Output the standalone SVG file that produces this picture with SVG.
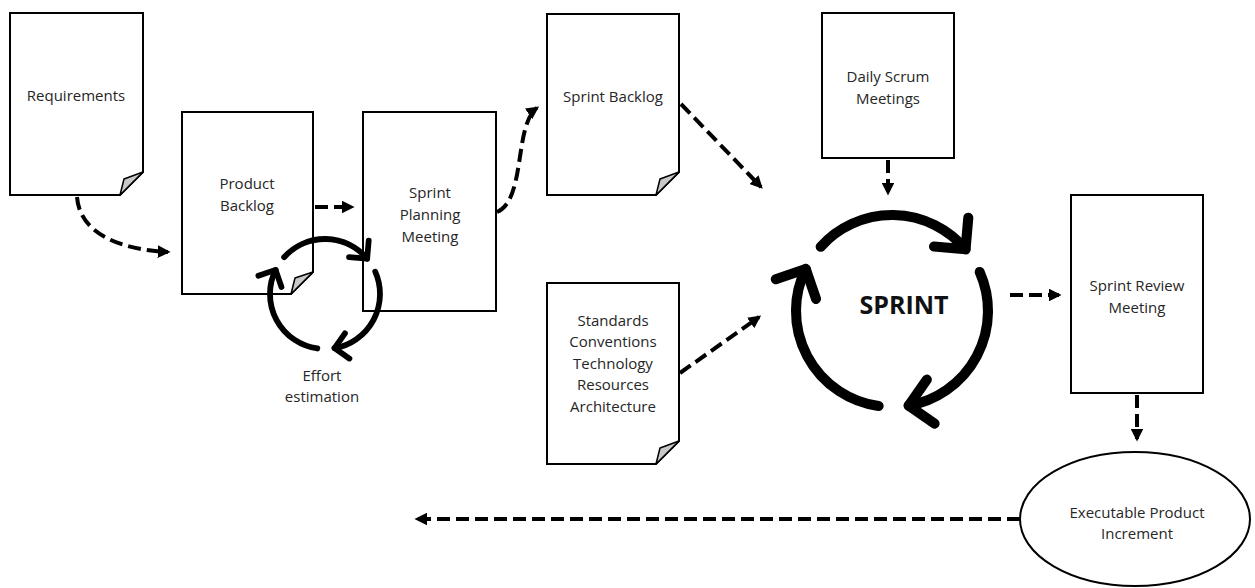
<svg xmlns="http://www.w3.org/2000/svg" xmlns:xlink="http://www.w3.org/1999/xlink" width="1255" height="588" viewBox="0 0 1255 588">
  <style>
    .box { fill: #ffffff; stroke: #000000; stroke-width: 2; }
    .fold { fill: #c8c8c8; stroke: #000000; stroke-width: 1.5; stroke-linejoin: round; }
    .label { font-family: "Open Sans", "Liberation Sans", sans-serif; font-size: 15px; fill: #262626; text-anchor: middle; }
    .big { font-family: "Open Sans", "Liberation Sans", sans-serif; font-size: 25px; font-weight: bold; fill: #111111; text-anchor: middle; }
    .dash { fill: none; stroke: #000000; stroke-width: 4; stroke-dasharray: 13 6; marker-end: url(#head); }
    .cycle path { fill: none; stroke: #000000; stroke-width: 10.5; stroke-linecap: round; stroke-linejoin: round; }
  </style>
  <defs>
    <marker id="head" viewBox="0 0 10 10" refX="8" refY="5" markerWidth="3.2" markerHeight="3.2" orient="auto" markerUnits="strokeWidth">
      <path d="M0 0 L10 5 L0 10 Z" fill="#000000"/>
    </marker>
    <!-- three-arc clockwise cycle, radius 100 around the origin -->
    <g id="cycle" class="cycle">
      <path d="M -74.31 -66.91 A 100 100 0 0 1 76.60 -64.28"/>
      <path d="M 79.48 -97.15 L 76.60 -64.28 L 43.73 -67.16"/>
      <path d="M 91.35 -40.67 A 100 100 0 0 1 17.36 98.48"/>
      <path d="M 44.39 117.41 L 17.36 98.48 L 36.29 71.45"/>
      <path d="M -13.92 99.03 A 100 100 0 0 1 -89.88 -43.84"/>
      <path d="M -121.08 -33.10 L -89.88 -43.84 L -79.14 -12.64"/>
    </g>
  </defs>

  <rect width="1255" height="588" fill="#ffffff"/>

  <g id="requirements">
    <path class="box" d="M10 13 H143 V172 L120 195 H10 Z"/>
    <path class="fold" d="M143 172 L124 179 L120 195 Z"/>
    <text class="label" x="76" y="101">Requirements</text>
  </g>

  <g id="product-backlog">
    <path class="box" d="M182 112 H313 V272 L291 294 H182 Z"/>
    <path class="fold" d="M313 272 L295 278 L291 294 Z"/>
    <text class="label" x="247" y="188.5">Product</text>
    <text class="label" x="247" y="210.5">Backlog</text>
  </g>

  <g id="sprint-planning">
    <rect class="box" x="363" y="112" width="133" height="199"/>
    <text class="label" x="430" y="197.5">Sprint</text>
    <text class="label" x="430" y="219.5">Planning</text>
    <text class="label" x="430" y="241.5">Meeting</text>
  </g>

  <g id="effort-estimation">
    <use xlink:href="#cycle" transform="translate(325 294) scale(0.55)"/>
    <text class="label" x="322" y="380.5">Effort</text>
    <text class="label" x="322" y="401.5">estimation</text>
  </g>

  <g id="sprint-backlog">
    <path class="box" d="M547 14 H679 V172 L656 195 H547 Z"/>
    <path class="fold" d="M679 172 L660 179 L656 195 Z"/>
    <text class="label" x="613" y="101.5">Sprint Backlog</text>
  </g>

  <g id="standards">
    <path class="box" d="M547 283 H679 V441 L656 464 H547 Z"/>
    <path class="fold" d="M679 441 L660 448 L656 464 Z"/>
    <text class="label" x="613" y="325.5">Standards</text>
    <text class="label" x="613" y="347">Conventions</text>
    <text class="label" x="613" y="368.5">Technology</text>
    <text class="label" x="613" y="390">Resources</text>
    <text class="label" x="613" y="411.5">Architecture</text>
  </g>

  <g id="daily-scrum">
    <rect class="box" x="822" y="13" width="132" height="145"/>
    <text class="label" x="888" y="81.5">Daily Scrum</text>
    <text class="label" x="888" y="103.5">Meetings</text>
  </g>

  <g id="sprint">
    <use xlink:href="#cycle" transform="translate(892 311) scale(0.96)"/>
    <text class="big" x="904" y="314">SPRINT</text>
  </g>

  <g id="sprint-review">
    <rect class="box" x="1071" y="195" width="132" height="198"/>
    <text class="label" x="1137" y="290.5">Sprint Review</text>
    <text class="label" x="1137" y="312.5">Meeting</text>
  </g>

  <g id="product-increment">
    <ellipse class="box" cx="1135" cy="519" rx="115" ry="67"/>
    <text class="label" x="1137" y="517.5">Executable Product</text>
    <text class="label" x="1137" y="538.5">Increment</text>
  </g>

  <g id="connectors">
    <path class="dash" d="M77 197 C80 236, 125 250, 168 252"/>
    <path class="dash" d="M315 207 H352"/>
    <path class="dash" d="M497 212 C526 200, 514 124, 537 108"/>
    <path class="dash" d="M681 104 L761 187"/>
    <path class="dash" d="M888 160 V193"/>
    <path class="dash" d="M680 373 L759 317"/>
    <path class="dash" d="M1010 295 H1059"/>
    <path class="dash" d="M1137 395 V439"/>
    <path class="dash" d="M1020 519 H417"/>
  </g>
</svg>
